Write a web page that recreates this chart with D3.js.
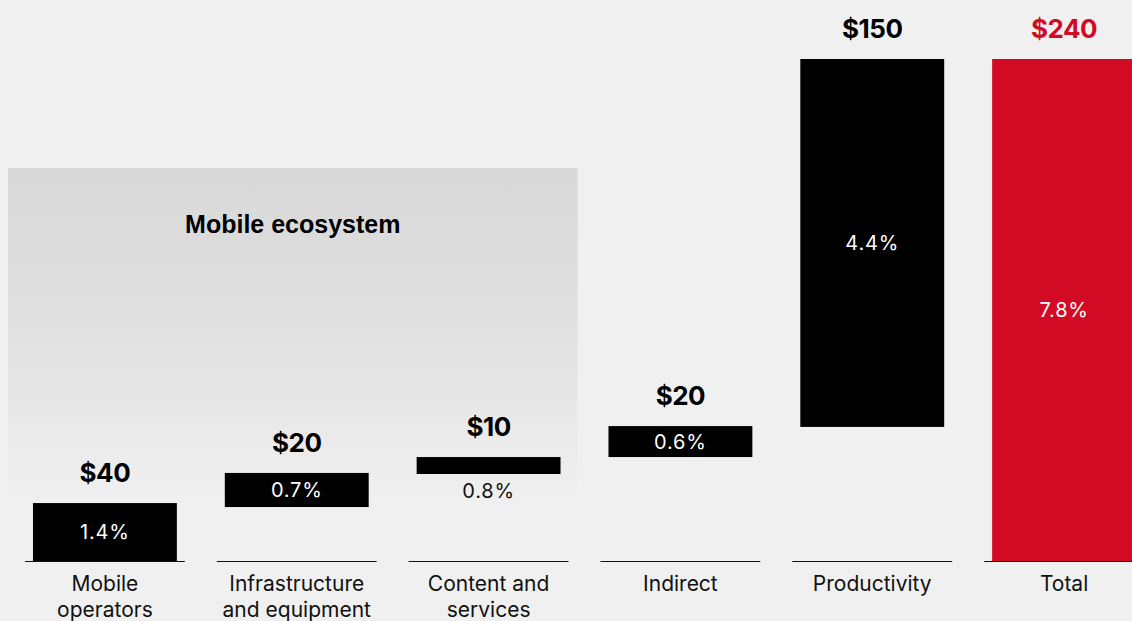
<!DOCTYPE html>
<html>
<head>
<meta charset="utf-8">
<script src="https://cdn.jsdelivr.net/npm/d3@7"></script>
<style>
  body { margin: 0; background: #f0f0f0; overflow: hidden; }
  svg { display: block; font-family: Inter, "Noto Sans", sans-serif; }
</style>
</head>
<body>
<svg width="1132" height="621"></svg>
<script>
// categories and values (bar extents, in $bn)
const categories = ["Mobile operators", "Infrastructure and equipment", "Content and services", "Indirect", "Productivity", "Total"];
const labelLines = [["Mobile", "operators"], ["Infrastructure", "and equipment"], ["Content and", "services"], ["Indirect"], ["Productivity"], ["Total"]];
const barLow  = [0, 25.8, 41.6, 49.7, 64.1, 0];
const barHigh = [27.7, 42.1, 49.7, 64.5, 240, 240];
const dollarLabels = ["$40", "$20", "$10", "$20", "$150", "$240"];
const pctLabels = ["1.4%", "0.7%", "0.8%", "0.6%", "4.4%", "7.8%"];
const ecosystem = ["Mobile operators", "Infrastructure and equipment", "Content and services"];

const svg = d3.select("svg");

const x = d3.scaleBand()
    .domain(categories)
    .range([9, 1160])
    .paddingInner(0.25)
    .paddingOuter(0.125);

const y = d3.scaleLinear()
    .domain([0, 240])
    .range([561, 59]);

// gradient for the mobile ecosystem panel
const defs = svg.append("defs");
const grad = defs.append("linearGradient")
    .attr("id", "eco").attr("x1", 0).attr("y1", 0).attr("x2", 0).attr("y2", 1);
grad.append("stop").attr("offset", "0%").attr("stop-color", "#d9d9d9");
grad.append("stop").attr("offset", "35%").attr("stop-color", "#dddddd");
grad.append("stop").attr("offset", "100%").attr("stop-color", "#f0f0f0");

const ecoX0 = x(ecosystem[0]) - 25;
const ecoX1 = x(ecosystem[2]) + x.bandwidth() + 17;
svg.append("rect")
    .attr("x", ecoX0).attr("y", 168)
    .attr("width", ecoX1 - ecoX0).attr("height", 335)
    .attr("fill", "url(#eco)");

svg.append("text")
    .attr("x", (ecoX0 + ecoX1) / 2).attr("y", 233)
    .attr("text-anchor", "middle")
    .style("font-family", "'Liberation Sans', Arial, sans-serif")
    .style("font-weight", "bold")
    .style("font-size", "25px")
    .attr("fill", "#000")
    .text("Mobile ecosystem");

const data = categories.map((c, i) => ({
    cat: c, low: barLow[i], high: barHigh[i],
    dollar: dollarLabels[i], pct: pctLabels[i], lines: labelLines[i],
    total: c === "Total"
}));

// baselines
svg.selectAll(".base")
    .data(data)
    .join("line")
    .attr("class", "base")
    .attr("x1", d => x(d.cat) - 8)
    .attr("x2", d => x(d.cat) + x.bandwidth() + 8)
    .attr("y1", y(0) + 0.5).attr("y2", y(0) + 0.5)
    .attr("stroke", "#111")
    .attr("stroke-width", 1.2);

// bars
svg.selectAll(".bar")
    .data(data)
    .join("rect")
    .attr("class", "bar")
    .attr("x", d => x(d.cat))
    .attr("y", d => y(d.high))
    .attr("width", x.bandwidth())
    .attr("height", d => y(d.low) - y(d.high))
    .attr("fill", d => d.total ? "#d30a24" : "#000");

// dollar labels
svg.selectAll(".dollar")
    .data(data)
    .join("text")
    .attr("class", "dollar")
    .attr("x", d => x(d.cat) + x.bandwidth() / 2)
    .attr("y", d => y(d.high) - 21)
    .attr("text-anchor", "middle")
    .style("font-weight", "bold")
    .style("font-size", "26px")
    .style("letter-spacing", "-0.5px")
    .attr("fill", d => d.total ? "#d30a24" : "#000")
    .text(d => d.dollar);

// percentage labels (inside bar, or below when the bar is too thin)
svg.selectAll(".pct")
    .data(data)
    .join("text")
    .attr("class", "pct")
    .attr("x", d => x(d.cat) + x.bandwidth() / 2)
    .attr("y", d => {
        const h = y(d.low) - y(d.high);
        return h < 25 ? y(d.low) + 24 : (y(d.low) + y(d.high)) / 2 + 7;
    })
    .attr("text-anchor", "middle")
    .style("font-size", "20px")
    .style("letter-spacing", "0.8px")
    .attr("fill", d => (y(d.low) - y(d.high)) < 25 ? "#111" : "#fff")
    .text(d => d.pct);

// category labels
const cat = svg.selectAll(".cat")
    .data(data)
    .join("text")
    .attr("class", "cat")
    .attr("x", d => x(d.cat) + x.bandwidth() / 2)
    .attr("y", 591)
    .attr("text-anchor", "middle")
    .style("font-size", "21px")
    .attr("fill", "#111");
cat.selectAll("tspan")
    .data(d => d.lines.map(l => ({ l, cx: x(d.cat) + x.bandwidth() / 2 })))
    .join("tspan")
    .attr("x", d => d.cx)
    .attr("dy", (d, i) => i === 0 ? 0 : 26)
    .text(d => d.l);
</script>
</body>
</html>
